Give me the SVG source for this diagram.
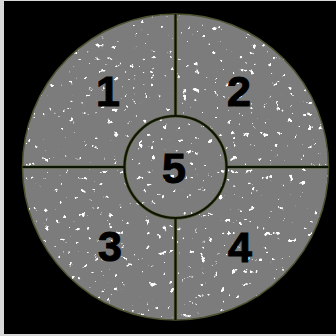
<svg xmlns="http://www.w3.org/2000/svg" width="336" height="336" viewBox="0 0 336 336">
<defs>
<style>
.num{font-family:"Liberation Sans",Arial,sans-serif;font-weight:bold;font-size:43px;fill:#000;stroke:#000;stroke-width:1;text-anchor:middle}
.edge{fill:none;stroke:#555a30;stroke-width:3.2}
.core{fill:none;stroke:#0c1404;stroke-width:2}
</style>
<clipPath id="disc"><circle cx="175.5" cy="167" r="153"/></clipPath>
<filter id="speck" x="0" y="0" width="1" height="1" filterUnits="objectBoundingBox">
<feTurbulence type="fractalNoise" baseFrequency="0.16" numOctaves="3" seed="11" result="n"/>
<feColorMatrix in="n" type="matrix" values="0 0 0 0 1 0 0 0 0 1 0 0 0 0 1 18 0 0 0 -12.8"/>
</filter>
</defs>
<rect width="336" height="336" fill="#d8d8d8"/>
<rect x="4" y="1" width="332" height="333" fill="#000"/>
<g id="disc-bg">
<circle cx="175.5" cy="167" r="153" fill="#7c7c7c"/>
<rect x="20" y="12" width="312" height="312" filter="url(#speck)" clip-path="url(#disc)"/>
<circle cx="175.5" cy="167" r="153" fill="none" stroke="#4e5230" stroke-width="1.5"/>
</g>
<g id="connectors">
<path class="edge" d="M175.5 14V116M175.5 218V320M22.5 167H124.5M226.5 167H328.5"/>
<circle class="edge" cx="175.5" cy="167" r="51"/>
<path class="core" d="M175.5 14V116M175.5 218V320M22.5 167H124.5M226.5 167H328.5"/>
<circle class="core" cx="175.5" cy="167" r="51"/>
</g>
<g id="n1"><text class="num" x="108" y="106">1</text></g>
<g id="n2"><text class="num" x="239" y="106">2</text></g>
<g id="n5"><text class="num" x="174" y="183">5</text></g>
<g id="n3"><text class="num" x="110" y="261">3</text></g>
<g id="n4"><text class="num" x="240" y="262">4</text></g>
</svg>
